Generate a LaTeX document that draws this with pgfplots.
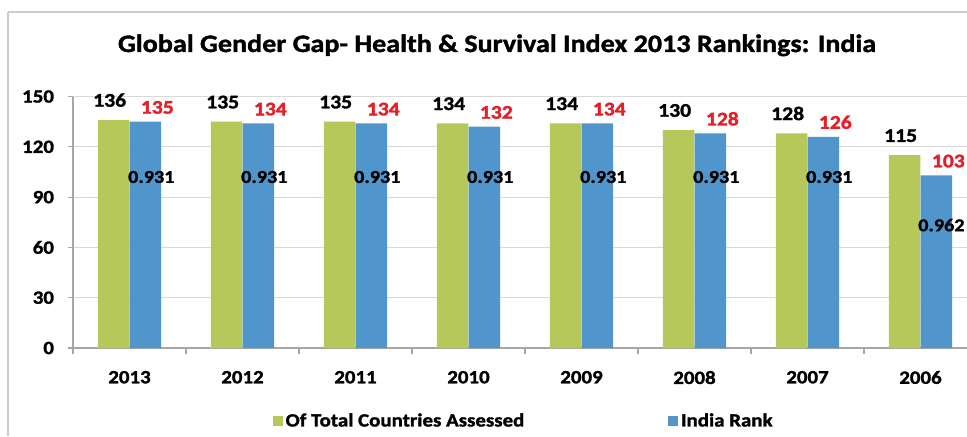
\documentclass[border=0pt]{standalone}
\usepackage{fontspec}
\setmainfont{Carlito}[FakeStretch=1.12, BoldFeatures={FakeBold=1.5}]
\usepackage{pgfplots}
\pgfplotsset{compat=1.18}
\definecolor{cgreen}{RGB}{183,200,90}
\definecolor{cblue}{RGB}{80,150,205}
\definecolor{gridc}{RGB}{217,217,217}
\definecolor{axc}{RGB}{166,166,166}
\definecolor{cred}{RGB}{230,30,40}
\begin{document}
\begin{tikzpicture}[x=0.75pt,y=0.75pt]
\path[use as bounding box] (0,0) rectangle (967,436);
\clip (0,0) rectangle (967,436);
\fill[white] (0,0) rectangle (967,436);
\draw[gray!40, line width=1pt] (8,424) -- (967,424);
\draw[gray!40, line width=1pt] (8,424) -- (8,0);
\node[anchor=base, font=\bfseries\fontsize{18.8}{22}\selectfont] at (497,384) {Global Gender Gap- Health \& Survival Index 2013 Rankings: India};
\begin{axis}[
  at={(54.75pt,66pt)}, anchor=south west,
  scale only axis, width=678pt, height=188.6pt,
  xmin=-0.5, xmax=7.5, ymin=0, ymax=150,
  /pgf/number format/assume math mode=true,
  ybar, bar width=0.279,
  axis x line=bottom, axis y line=left,
  axis line style={-, draw=axc, line width=0.8pt},
  ytick={0,30,...,150},
  ymajorgrids, grid style={draw=gridc, line width=0.8pt},
  xtick={0,...,7},
  xticklabels={2013,2012,2011,2010,2009,2008,2007,2006},
  minor xtick={-0.5,0.5,...,7.5},
  major x tick style={draw=none},
  minor x tick style={draw=axc, line width=0.8pt},
  y tick style={draw=axc, line width=0.8pt},
  tick align=outside,
  major tick length=3.75pt, minor tick length=4.5pt,
  yticklabel style={font=\bfseries\fontsize{14}{16}\selectfont, xshift=-7pt},
  xticklabel style={font=\bfseries\fontsize{14}{16}\selectfont, yshift=-10pt},
  legend columns=2,
  legend style={at={(0.499,-0.29)}, anchor=center, draw=none, fill=none,
    font=\bfseries\fontsize{14}{16}\selectfont,
    /tikz/every even column/.append style={column sep=106pt}},
  legend image code/.code={\fill[#1,draw=none] (0pt,-3.75pt) rectangle (7.5pt,3.75pt);},
  clip=false,
]
\addplot[fill=cgreen, draw=none, bar shift=-0.14,
  nodes near coords,
  nodes near coords style={anchor=base, yshift=10pt, xshift=-3pt, text=black, font=\bfseries\fontsize{14.5}{16}\selectfont}]
  coordinates {(0,136) (1,135) (2,135) (3,134) (4,134) (5,130) (6,128) (7,115)};
\addlegendentry{Of Total Countries Assessed}
\addplot[fill=cblue, draw=none, bar shift=0.14,
  nodes near coords,
  nodes near coords style={anchor=base, yshift=6pt, xshift=9pt, text=cred, font=\bfseries\fontsize{14.5}{16}\selectfont}]
  coordinates {(0,135) (1,134) (2,134) (3,132) (4,134) (5,128) (6,126) (7,103)};
\addlegendentry{India Rank}
\begin{scope}[every node/.style={font=\bfseries\fontsize{13.5}{15}\selectfont}]
\node at (axis cs:0.193,102) {0.931};
\node at (axis cs:1.193,102) {0.931};
\node at (axis cs:2.193,102) {0.931};
\node at (axis cs:3.193,102) {0.931};
\node at (axis cs:4.193,102) {0.931};
\node at (axis cs:5.193,102) {0.931};
\node at (axis cs:6.193,102) {0.931};
\node at (axis cs:7.185,73.3) {0.962};
\end{scope}
\end{axis}
\end{tikzpicture}
\end{document}
